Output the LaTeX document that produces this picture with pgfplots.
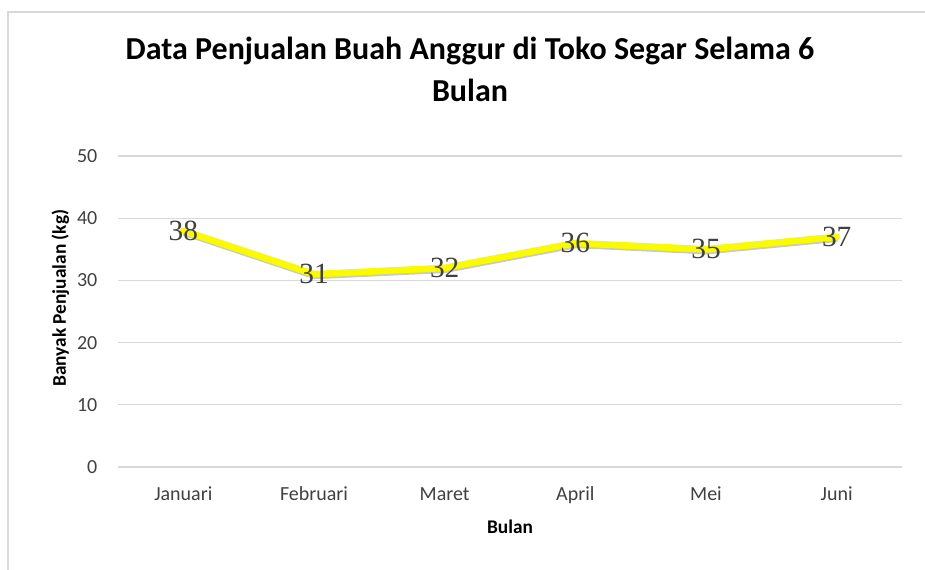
\documentclass[border=0pt]{standalone}
\usepackage{pgfplots}
\pgfplotsset{compat=1.18}
\usepackage{fontspec}
\setmainfont{Carlito}
\newfontfamily\labelfont{Liberation Serif}
\definecolor{gridc}{HTML}{D9D9D9}
\definecolor{txt}{HTML}{404040}
\definecolor{lineY}{HTML}{FAFA00}
\begin{document}
\begin{tikzpicture}
\useasboundingbox (0,0) rectangle (693.75pt,427.5pt);
\draw[gridc, line width=0.8pt] (6pt,0) -- (6pt,418.5pt) -- (693.75pt,418.5pt);
\node[font=\bfseries\fontsize{24}{29}\selectfont, anchor=base, text=black] at (352.5pt,382.5pt) {Data Penjualan Buah Anggur di Toko Segar Selama 6};
\node[font=\bfseries\fontsize{24}{29}\selectfont, anchor=base, text=black] at (352.5pt,351pt) {Bulan};
\begin{axis}[
  at={(88.5pt,77.25pt)}, anchor=south west,
  scale only axis, width=588pt, height=233.25pt,
  xmin=-0.5, xmax=5.5, ymin=0, ymax=50,
  ytick={0,10,...,50},
  xtick={0,...,5},
  xticklabels={Januari,Februari,Maret,April,Mei,Juni},
  ymajorgrids, grid style={gridc, line width=0.8pt},
  axis line style={draw=none}, tick style={draw=none},
  /pgf/number format/assume math mode=true,
  ticklabel style={font=\fontsize{15}{17}\selectfont, text=txt},
  xticklabel style={text height=1.6ex, text depth=0.3ex, yshift=-14pt},
  yticklabel style={xshift=-12pt},
  xlabel={Bulan}, ylabel={Banyak Penjualan (kg)},
  label style={font=\bfseries\fontsize{14.5}{16}\selectfont, text=black},
  xlabel style={yshift=-6pt},
  ylabel style={yshift=-1pt, xshift=10pt},
  clip=false,
]
\addplot[black!70, opacity=0.3, line width=5pt, line join=round, shift={(0.5pt,-1.3pt)}] coordinates {(0,38) (1,31) (2,32) (3,36) (4,35) (5,37)};
\addplot[lineY, line width=5pt, line join=round, line cap=round,
  nodes near coords, point meta=explicit symbolic,
  every node near coord/.style={anchor=center, font=\labelfont\fontsize{22}{24}\selectfont, text=txt}]
  coordinates {(0,38)[38] (1,31)[31] (2,32)[32] (3,36)[36] (4,35)[35] (5,37)[37]};
\end{axis}
\end{tikzpicture}
\end{document}
